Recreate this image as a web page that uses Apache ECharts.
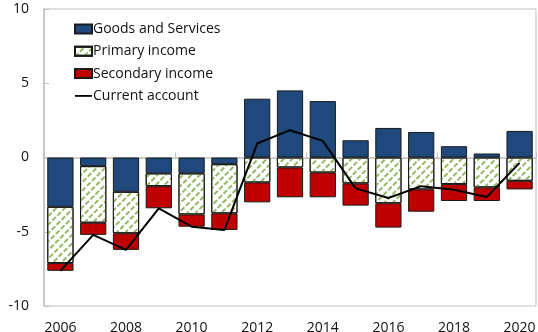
<!DOCTYPE html>
<html>
<head>
<meta charset="utf-8">
<script src="https://cdn.jsdelivr.net/npm/echarts@6/dist/echarts.min.js"></script>
<style>
  html, body { margin: 0; padding: 0; background: #fff; }
  #main { width: 538px; height: 332px; }
</style>
</head>
<body>
<div id="main"></div>
<script>
// years on the x axis
const years = ['2006', '2007', '2008', '2009', '2010', '2011', '2012', '2013',
	'2014', '2015', '2016', '2017', '2018', '2019', '2020'];

// components, % of GDP
const goodsServices = [-3.32, -0.58, -2.31, -1.07, -1.07, -0.45, 3.96, 4.52, 3.80, 1.16, 1.99, 1.72, 0.76, 0.27, 1.79];
const primaryIncome = [-3.79, -3.81, -2.79, -0.86, -2.76, -3.31, -1.68, -0.67, -1.01, -1.74, -3.08, -2.15, -1.79, -2.01, -1.57];
const secondaryIncome = [-0.52, -0.82, -1.12, -1.49, -0.83, -1.12, -1.34, -2.01, -1.67, -1.50, -1.64, -1.50, -1.14, -0.92, -0.58];
const currentAccount = [-7.63, -5.21, -6.22, -3.42, -4.66, -4.88, 0.94, 1.84, 1.12, -2.08, -2.73, -1.93, -2.17, -2.66, -0.36];

const yTicks = [-10, -5, 0, 5, 10];

const font = 'Open Sans';
const chart = echarts.init(document.getElementById('main'), null, { renderer: 'canvas' });

const barBorder = { borderColor: '#1a1a1a', borderWidth: 1 };

const option = {
	animation: false,
	backgroundColor: '#fff',
	textStyle: { fontFamily: font },
	graphic: [
		{
			type: 'text',
			left: 44,
			top: -12,
			style: { text: '(Percent of GDP)', fill: '#5B9BD5', font: '13px "Open Sans"' }
		}
	],
	grid: {
		left: 44,
		right: 2,
		top: 9,
		bottom: 26,
		outerBoundsMode: 'none',
		containLabel: false,
		show: true,
		borderColor: '#BFBFBF',
		borderWidth: 1,
		backgroundColor: 'transparent'
	},
	legend: {
		orient: 'vertical',
		left: 69,
		top: 17,
		itemWidth: 17,
		itemHeight: 9,
		itemGap: 8.3,
		textStyle: { fontFamily: font, fontSize: 14, color: '#111', lineHeight: 14, padding: [0, 0, 0, -4] },
		data: [
			{ name: 'Goods and Services', icon: 'rect' },
			{ name: 'Primary income', icon: 'rect' },
			{ name: 'Secondary income', icon: 'rect' },
			{ name: 'Current account', icon: 'path://M0,0h17v1.8h-17z' }
		]
	},
	xAxis: [
		{
			type: 'category',
			data: years,
			position: 'bottom',
			axisLine: { show: false, onZero: false },
			axisTick: { show: false },
			axisLabel: {
				interval: 1,
				margin: 15,
				fontFamily: font,
				fontSize: 14,
				color: '#111'
			},
			splitLine: { show: false }
		},
		{
			type: 'category',
			data: years,
			position: 'bottom',
			axisLine: { show: true, onZero: true, lineStyle: { color: '#BFBFBF', width: 1.5 } },
			axisTick: { show: true, inside: true, interval: 3, length: 5, lineStyle: { color: '#BFBFBF' } },
			axisLabel: { show: false },
			splitLine: { show: false }
		}
	],
	yAxis: {
		type: 'value',
		min: yTicks[0],
		max: yTicks[yTicks.length - 1],
		interval: 5,
		axisLine: { show: true, lineStyle: { color: '#BFBFBF', width: 1.5 } },
		axisTick: { show: true, inside: true, length: 5, lineStyle: { color: '#BFBFBF' } },
		axisLabel: { margin: 15, fontFamily: font, fontSize: 14, color: '#111' },
		splitLine: { show: false }
	},
	series: [
		{
			name: 'Goods and Services',
			type: 'bar',
			stack: 'ca',
			barCategoryGap: '20%',
			itemStyle: Object.assign({ color: '#1F497D' }, barBorder),
			data: goodsServices
		},
		{
			name: 'Primary income',
			type: 'bar',
			stack: 'ca',
			itemStyle: Object.assign({
				color: '#fff',
				decal: {
					symbol: 'rect',
					symbolSize: 1,
					color: '#94B964',
					dashArrayX: [[5, 2]],
					dashArrayY: [2, 3.5],
					rotation: -Math.PI / 4
				}
			}, barBorder),
			data: primaryIncome
		},
		{
			name: 'Secondary income',
			type: 'bar',
			stack: 'ca',
			itemStyle: Object.assign({ color: '#C00000' }, barBorder),
			data: secondaryIncome
		},
		{
			name: 'Current account',
			type: 'line',
			symbol: 'none',
			lineStyle: { color: '#000', width: 2 },
			itemStyle: { color: '#000' },
			z: 5,
			data: currentAccount
		}
	]
};

chart.setOption(option);
</script>
</body>
</html>
